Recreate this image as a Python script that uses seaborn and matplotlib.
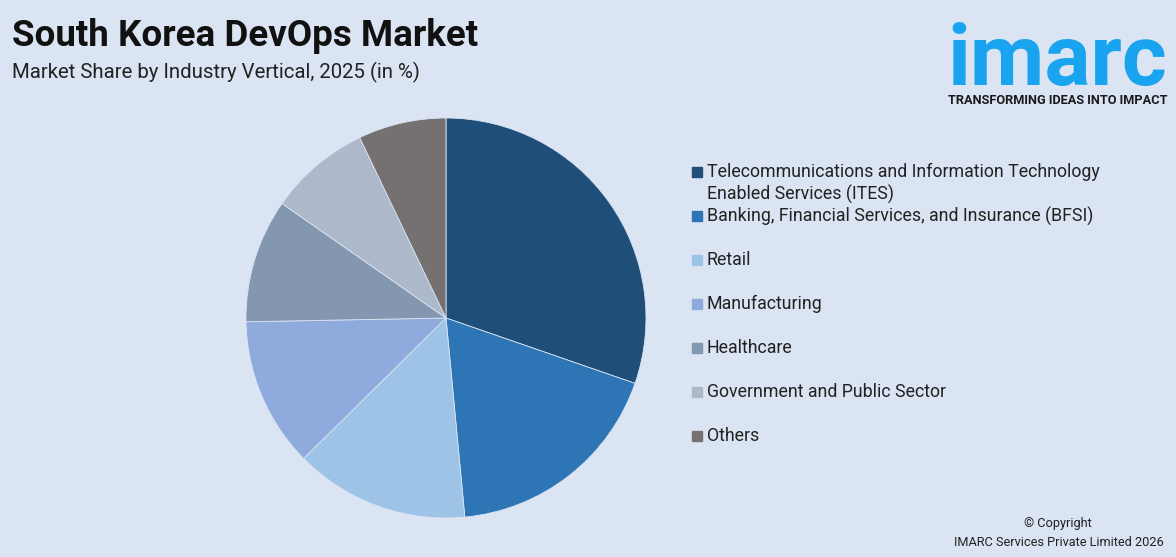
import matplotlib
matplotlib.use('Agg')
import matplotlib.pyplot as plt
import seaborn as sns

# chart data
categories = ['Telecommunications and Information Technology\nEnabled Services (ITES)',
              'Banking, Financial Services, and Insurance (BFSI)',
              'Retail',
              'Manufacturing',
              'Healthcare',
              'Government and Public Sector',
              'Others']
shares = [30.3, 18.2, 14.1, 12.1, 10.0, 8.2, 7.1]
colors = ['#1f4e79', '#2e75b6', '#9dc3e6', '#8faadc', '#8497b0', '#adb9ca', '#767171']

title = 'South Korea DevOps Market'
subtitle = 'Market Share by Industry Vertical, 2025 (in %)'

sns.set_theme(style='white')
plt.rcParams['font.family'] = ['Roboto', 'DejaVu Sans']

bg = '#dae4f2'
W, H = 1176, 557
fig = plt.figure(figsize=(W / 100, H / 100), dpi=100, facecolor=bg)

# pie axes: centre (446, 318), radius 200 px
cx, cy, r = 446, 318, 200
ax = fig.add_axes([(cx - r) / W, (H - cy - r) / H, 2 * r / W, 2 * r / H])
ax.set_facecolor(bg)
palette = sns.color_palette(colors)
ax.pie(shares, colors=palette, startangle=90, counterclock=False,
       wedgeprops=dict(linewidth=0.6, edgecolor=bg))
ax.set_xlim(-1, 1)
ax.set_ylim(-1, 1)
ax.set_aspect('equal')
ax.axis('off')

# legend, drawn by hand
leg_y = [172, 216, 260, 304, 348, 392, 436]
for lab, c, y in zip(categories, palette, leg_y):
    fig.patches.append(plt.Rectangle((692 / W, (H - y - 5) / H), 10 / W, 10 / H,
                                     transform=fig.transFigure, color=c))
    lines = lab.split('\n')
    for i, ln in enumerate(lines):
        fig.text(707 / W, (H - y - 22 * i) / H, ln, fontsize=12.8,
                 color='#222222', va='center', ha='left')

# titles
fig.text(12 / W, (H - 36) / H, title, fontsize=26.5, fontweight='bold',
         color='#111111', va='center', ha='left')
fig.text(12 / W, (H - 72) / H, subtitle, fontsize=14.7,
         color='#222222', va='center', ha='left')

# logo
fig.text(1057 / W, (H - 85) / H, 'imarc', fontsize=62, fontweight='bold',
         color='#1aa3ee', va='baseline', ha='center')
fig.text(1058 / W, (H - 100) / H, 'TRANSFORMING IDEAS INTO IMPACT', fontsize=9.2,
         fontweight='bold', color='#1a1a1a', va='center', ha='center')

# copyright
fig.text(1058 / W, (H - 524) / H, '© Copyright', fontsize=9.2,
         color='#222222', va='center', ha='center')
fig.text(1059 / W, (H - 542) / H, 'IMARC Services Private Limited 2026', fontsize=9.2,
         color='#222222', va='center', ha='center')

plt.savefig('out.png', dpi=100, facecolor=bg)
